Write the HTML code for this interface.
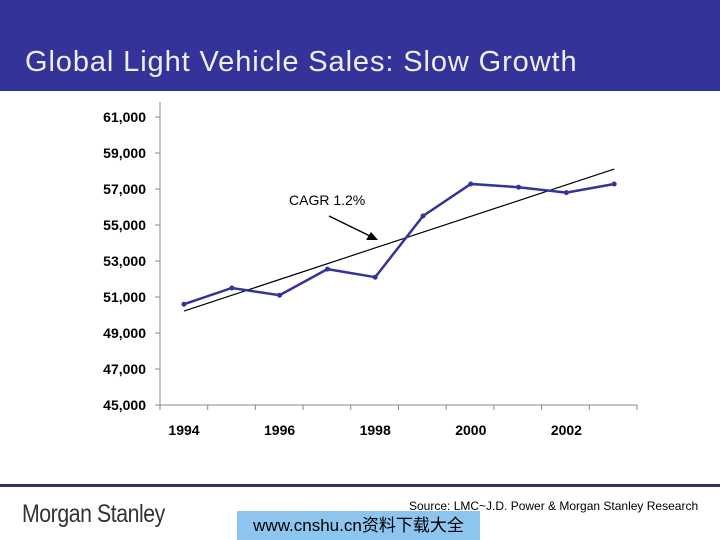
<!DOCTYPE html>
<html><head><meta charset="utf-8"><style>
body{margin:0;width:720px;height:540px;background:#fff;overflow:hidden;position:relative;font-family:"Liberation Sans","Noto Sans CJK SC",sans-serif}
#hdr{position:absolute;left:0;top:0;width:720px;height:91px;background:#333399}
#title{position:absolute;left:25px;top:46px;color:#eee;font-size:29px;letter-spacing:0.9px}
#rule{position:absolute;left:0;top:484px;width:720px;height:3px;background:#333366}
#logo{position:absolute;left:22px;top:500px;font-size:25px;color:#333;letter-spacing:-0.5px;transform:scaleX(0.85);transform-origin:left}
#src{position:absolute;left:409px;top:499px;font-size:12px;color:#000}
#wm{position:absolute;left:237px;top:511px;width:243px;height:29px;background:#8ec5ef;font-size:17px;line-height:29px;text-align:center;color:#000}
</style></head><body>
<div id="hdr"><div id="title">Global Light Vehicle Sales: Slow Growth</div></div>
<svg id="chart" width="720" height="540" style="position:absolute;left:0;top:0"></svg>
<div id="rule"></div>
<div id="logo">Morgan Stanley</div>
<div id="src">Source: LMC~J.D. Power &amp; Morgan Stanley Research</div>
<div id="wm">www.cnshu.cn资料下载大全</div>
<script>
const years=[1994,1995,1996,1997,1998,1999,2000,2001,2002,2003];
const sales=[50600,51500,51100,52550,52100,55500,57280,57100,56800,57280];
const trend=[50220,58110];
const yTicks=[45000,47000,49000,51000,53000,55000,57000,59000,61000];
const xTickYears=[1994,1996,1998,2000,2002];
const NS="http://www.w3.org/2000/svg";
const svg=document.getElementById('chart');
const x=yr=>184+(yr-1994)*47.8;
const y=v=>405-(v-45000)*0.018;
function mk(t,a){const e=document.createElementNS(NS,t);for(const k in a)e.setAttribute(k,a[k]);svg.appendChild(e);return e;}
let e=mk('line',{x1:160,y1:y(45000),x2:637,y2:y(45000),stroke:'#888','stroke-width':1});

e=mk('line',{x1:160,y1:y(61000)-15,x2:160,y2:y(45000),stroke:'#888','stroke-width':1});

yTicks.forEach(v=>{
 mk('line',{x1:155,y1:y(v),x2:160,y2:y(v),stroke:'#888'});
 const t=mk('text',{x:146,y:y(v)+5,'text-anchor':'end','font-size':14,'font-weight':'bold',fill:'#000'});
 t.textContent=v.toLocaleString('en-US');
 
});
for(let i=0;i<=10;i++){mk('line',{x1:160+i*47.7,y1:405,x2:160+i*47.7,y2:410,stroke:'#888'});}
xTickYears.forEach(yr=>{
 const t=mk('text',{x:x(yr),y:435,'text-anchor':'middle','font-size':14,'font-weight':'bold',fill:'#000'});
 t.textContent=yr;
});
e=mk('line',{x1:x(1994),y1:y(trend[0]),x2:x(2003),y2:y(trend[1]),stroke:'#000','stroke-width':1.2});

e=mk('polyline',{points:years.map((yr,i)=>x(yr)+','+y(sales[i])).join(' '),fill:'none',stroke:'#333399','stroke-width':2.5});

years.forEach((yr,i)=>{const c=mk('circle',{cx:x(yr),cy:y(sales[i]),r:2.5,fill:'#333399'});
 });
const at=mk('text',{x:289,y:205,'font-size':14,fill:'#000'});at.textContent='CAGR 1.2%';

e=mk('line',{x1:329,y1:216,x2:372,y2:237,stroke:'#000','stroke-width':1.5});

mk('polygon',{points:'378,240 366,240 371,232',fill:'#000'});
</script>
</body></html>
